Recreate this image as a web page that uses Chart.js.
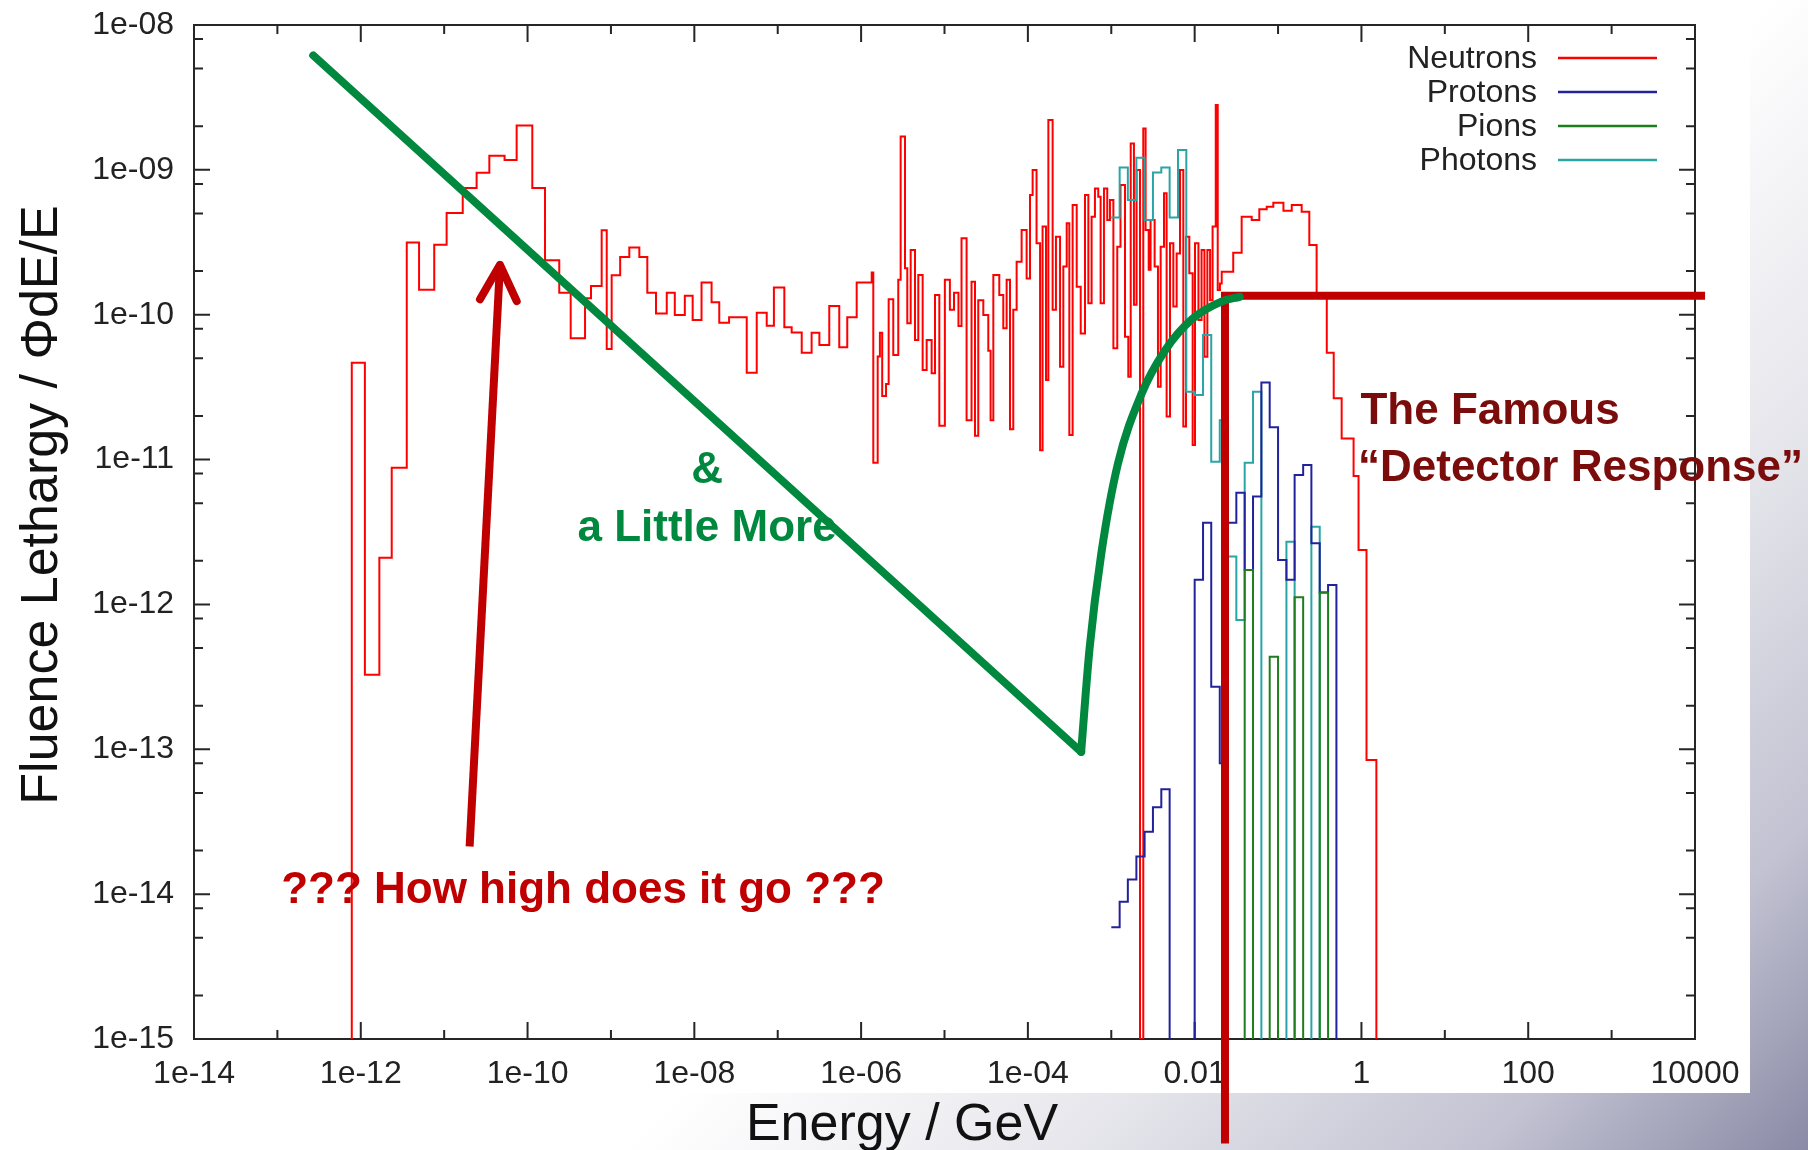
<!DOCTYPE html>
<html>
<head>
<meta charset="utf-8">
<title>Fluence spectrum</title>
<script src="https://cdn.jsdelivr.net/npm/chart.js@4.4.1/dist/chart.umd.min.js"></script>
<style>
html, body { margin: 0; padding: 0; }
body {
  width: 1808px; height: 1150px; overflow: hidden; position: relative;
  background: linear-gradient(135deg, #ffffff 0%, #ffffff 60%, #e6e6ec 75%, #c2c2d2 89%, #8a8aa6 100%);
}
#paper { position: absolute; left: 0; top: 0; width: 1750px; height: 1093px; background: #fff; }
#chart { position: absolute; left: 0; top: 0; }
</style>
</head>
<body>
<div id="paper"></div>
<canvas id="chart" width="1808" height="1150"></canvas>
<script>
// bin edges in GeV and fluence per bin (0 = empty bin)
const neutronEdges = [
  7.8e-13, 1.12e-12, 1.67e-12, 2.35e-12, 3.56e-12, 5.0e-12, 7.6e-12, 1.07e-11, 1.67e-11, 2.45e-11,
  3.48e-11, 5.3e-11, 7.4e-11, 1.14e-10, 1.62e-10, 2.4e-10, 3.29e-10, 4.89e-10, 5.77e-10, 7.74e-10,
  8.9e-10, 1.02e-9, 1.29e-9, 1.66e-9, 2.19e-9, 2.73e-9, 3.47e-9, 4.67e-9, 5.83e-9, 7.69e-9,
  9.55e-9, 1.22e-8, 1.61e-8, 1.99e-8, 2.61e-8, 4.25e-8, 5.6e-8, 7.38e-8, 9.0e-8, 1.2e-7,
  1.47e-7, 1.94e-7, 2.55e-7, 3.16e-7, 4.15e-7, 5.47e-7, 6.82e-7, 8.85e-7, 1.34e-6, 1.4e-6,
  1.58e-6, 1.68e-6, 1.79e-6, 1.99e-6, 2.14e-6, 2.43e-6, 2.79e-6, 2.98e-6, 3.36e-6, 3.58e-6,
  3.93e-6, 4.43e-6, 4.85e-6, 5.47e-6, 6.11e-6, 7.01e-6, 7.69e-6, 8.67e-6, 1.01e-5, 1.16e-5,
  1.3e-5, 1.47e-5, 1.6e-5, 1.84e-5, 2.11e-5, 2.32e-5, 2.54e-5, 2.92e-5, 3.35e-5, 3.57e-5,
  3.85e-5, 4.54e-5, 5.07e-5, 5.56e-5, 6.1e-5, 6.68e-5, 7.33e-5, 8.41e-5, 9.66e-5,
  1.06e-4, 1.14e-4, 1.27e-4, 1.4e-4, 1.5e-4, 1.65e-4, 1.76e-4, 1.98e-4, 2.17e-4, 2.43e-4,
  2.66e-4, 2.92e-4, 3.14e-4, 3.44e-4, 3.85e-4, 4.3e-4, 4.84e-4, 5.31e-4, 5.81e-4, 6.37e-4,
  6.98e-4, 7.45e-4, 8.17e-4, 8.95e-4, 9.64e-4, 1.06e-3, 1.18e-3, 1.29e-3, 1.46e-3, 1.6e-3,
  1.71e-3, 1.87e-3, 2.01e-3, 2.21e-3, 2.42e-3, 2.58e-3, 2.81e-3, 2.96e-3, 3.31e-3, 3.63e-3,
  3.91e-3, 4.29e-3, 4.61e-3, 5.06e-3, 5.55e-3, 6.08e-3, 6.67e-3, 7.31e-3, 7.87e-3, 8.63e-3,
  9.46e-3, 1.01e-2, 1.11e-2, 1.21e-2, 1.31e-2, 1.42e-2, 1.53e-2, 1.64e-2,
  1.79e-2, 1.89e-2, 2.01e-2, 2.11e-2, 2.9e-2, 3.66e-2, 4.83e-2, 5.96e-2,
  7.31e-2, 8.77e-2, 0.116, 0.146, 0.192, 0.237, 0.29, 0.384, 0.465, 0.579,
  0.805, 0.923, 1.15, 1.51
];
const neutronFlux = [
  4.66e-11, 3.27e-13, 2.1e-12, 8.77e-12, 3.15e-10, 1.49e-10, 3.04e-10, 5.04e-10, 7.48e-10, 9.55e-10,
  1.25e-9, 1.17e-9, 2.02e-9, 7.48e-10, 2.38e-10, 1.42e-10, 6.87e-11, 1.3e-10, 1.58e-10, 3.83e-10,
  5.79e-11, 1.87e-10, 2.5e-10, 2.91e-10, 2.5e-10, 1.42e-10, 1.02e-10, 1.42e-10, 9.95e-11, 1.35e-10,
  9.2e-11, 1.67e-10, 1.22e-10, 8.81e-11, 9.6e-11, 3.98e-11, 1.03e-10, 8.39e-11, 1.54e-10, 8.18e-11,
  7.55e-11, 5.47e-11, 7.52e-11, 6.18e-11, 1.15e-10, 5.96e-11, 9.6e-11, 1.67e-10, 1.96e-10, 9.5e-12,
  5.14e-11, 7.52e-11, 2.75e-11, 3.33e-11, 1.28e-10, 5.27e-11, 1.74e-10, 1.7e-9, 2.09e-10, 8.73e-11,
  2.8e-10, 6.7e-11, 1.88e-10, 4.16e-11, 6.7e-11, 3.94e-11, 1.37e-10, 1.71e-11, 1.74e-10, 1.08e-10,
  1.42e-10, 8.36e-11, 3.37e-10, 1.87e-11, 1.69e-10, 1.46e-11, 1.26e-10, 9.95e-11, 5.65e-11, 1.87e-11,
  1.88e-10, 1.37e-10, 8.05e-11, 1.74e-10, 1.62e-11, 1.08e-10, 2.32e-10, 3.85e-10, 1.78e-10,
  6.7e-10, 9.98e-10, 3.11e-10, 1.16e-11, 4.06e-10, 3.54e-11, 2.21e-9, 1.08e-10, 3.46e-10, 4.38e-11,
  2.15e-10, 4.28e-10, 1.48e-11, 5.71e-10, 1.56e-10, 7.43e-11, 6.7e-10, 1.2e-10, 4.75e-10, 7.45e-10,
  6.53e-10, 1.2e-10, 7.45e-10, 4.51e-10, 6.19e-10, 5.86e-11, 2.95e-10, 7.85e-10, 7.05e-11, 3.73e-11,
  1.52e-9, 1.17e-10, 9.98e-10, 0, 1.93e-9, 3.85e-10, 2.04e-10, 4.51e-10, 2.15e-10, 3.18e-11,
  2.95e-10, 6.89e-10, 1.98e-11, 3.11e-10, 1.14e-10, 2.65e-10, 9.98e-10, 1.69e-11, 3.46e-10, 1.93e-10,
  1.26e-11, 3.11e-10, 9.18e-11, 2.8e-10, 5.13e-11, 2.8e-10, 1.26e-10, 4.06e-10,
  2.8e-9, 1.48e-10, 1.64e-10, 1.98e-10, 2.68e-10, 4.75e-10, 4.51e-10, 5.35e-10,
  5.57e-10, 5.93e-10, 5.22e-10, 5.71e-10, 5.14e-10, 3.03e-10, 1.41e-10, 5.47e-11, 2.65e-11, 1.4e-11,
  7.71e-12, 2.38e-12, 8.43e-14
];

const protonEdges = [
  1e-3, 1.26e-3, 1.58e-3, 2e-3, 2.51e-3, 3.16e-3, 3.98e-3, 5.01e-3, 6.31e-3, 7.94e-3,
  1e-2, 1.26e-2, 1.58e-2, 2e-2, 2.51e-2, 3.16e-2, 3.98e-2, 5.01e-2, 6.31e-2, 7.94e-2,
  0.1, 0.126, 0.158, 0.2, 0.251, 0.316, 0.398, 0.501
];
const protonFlux = [
  5.9e-15, 8.87e-15, 1.26e-14, 1.82e-14, 2.7e-14, 3.98e-14, 5.3e-14, 0, 0, 0,
  1.48e-12, 3.66e-12, 2.7e-13, 8.0e-14, 3.66e-12, 5.9e-12, 1.73e-12, 5.55e-12, 3.4e-11, 1.67e-11,
  2.03e-12, 1.48e-12, 7.83e-12, 9.19e-12, 2.64e-12, 1.21e-12, 1.36e-12
];

const pionEdges = [3.98e-2, 5.01e-2, 6.31e-2, 7.94e-2, 0.1, 0.126, 0.158, 0.2, 0.251, 0.316, 0.398];
const pionFlux = [1.73e-12, 0, 0, 4.36e-13, 0, 0, 1.12e-12, 0, 0, 1.21e-12];

const photonEdges = [
  1e-3, 1.26e-3, 1.58e-3, 2e-3, 2.51e-3, 3.16e-3, 3.98e-3, 5.01e-3, 6.31e-3, 7.94e-3,
  1e-2, 1.26e-2, 1.58e-2, 2e-2, 2.51e-2, 3.16e-2, 3.98e-2, 5.01e-2, 6.31e-2, 7.94e-2,
  0.1, 0.126, 0.158, 0.2, 0.251, 0.316
];
const photonFlux = [
  4.68e-10, 1.04e-9, 6.19e-10, 1.21e-9, 4.51e-10, 9.6e-10, 1.04e-9, 4.68e-10, 1.37e-9, 2.94e-11,
  2.79e-11, 7.24e-11, 9.66e-12, 1.87e-11, 2.14e-12, 7.82e-13, 9.5e-12, 2.94e-11, 0, 0,
  0, 2.71e-12, 0, 0, 3.44e-12
];

// hand-drawn overlay: straight slope, rising curve, "detector response" and arrow
const slopeE = [2.69e-13, 4.35e-4];
const slopeF = [6.17e-9, 9.6e-14];
const riseE = [4.35e-4, 5.5e-4, 7.59e-4, 1.2e-3, 2.29e-3, 4.37e-3, 9.33e-3, 2.09e-2, 3.47e-2];
const riseF = [9.6e-14, 5.01e-13, 2.24e-12, 9.33e-12, 2.82e-11, 5.62e-11, 9.33e-11, 1.23e-10, 1.33e-10];
const responseE = [2.31e-2, 2.31e-2, 1.32e4];
const responseF = [1.9e-16, 1.35e-10, 1.35e-10];
const arrowE = [2.02e-11, 4.67e-11];
const arrowF = [2.13e-14, 2.21e-10];
const arrowHeadE = [2.69e-11, 4.67e-11, 7.41e-11];
const arrowHeadF = [1.28e-10, 2.21e-10, 1.24e-10];

const noteTexts = ['&', 'a Little More', '??? How high does it go ???', 'The Famous', '\u201cDetector Response\u201d'];
const noteE = [1.42e-8, 1.42e-8, 4.62e-10, 0.974, 0.909];
const noteF = [6.89e-12, 2.76e-12, 8.69e-15, 1.77e-11, 7.15e-12];

const xTickValues = [1e-14, 1e-12, 1e-10, 1e-8, 1e-6, 1e-4, 1e-2, 1, 100, 1e4];
const xTickLabels = ['1e-14', '1e-12', '1e-10', '1e-08', '1e-06', '1e-04', '0.01', '1', '100', '10000'];
const xMinorValues = [1e-13, 1e-11, 1e-9, 1e-7, 1e-5, 1e-3, 0.1, 10, 1000];
const yTickValues = [1e-15, 1e-14, 1e-13, 1e-12, 1e-11, 1e-10, 1e-9, 1e-8];
const yTickLabels = ['1e-15', '1e-14', '1e-13', '1e-12', '1e-11', '1e-10', '1e-09', '1e-08'];
const yMinorSteps = [2, 5, 8];

const FLOOR = 1e-17; // empty bins go below the axis and get clipped
const SANS = '"Liberation Sans", Arial, sans-serif';
const GREEN = '#00893e';
const DARKRED = '#c00000';

function histPoints(edges, flux, fromAxis) {
  const pts = [];
  if (fromAxis) pts.push({ x: edges[0], y: FLOOR });
  flux.forEach((v, i) => pts.push({ x: edges[i], y: v > 0 ? v : FLOOR }));
  const end = edges[edges.length - 1];
  const last = flux[flux.length - 1];
  pts.push({ x: end, y: last > 0 ? last : FLOOR });
  pts.push({ x: end, y: FLOOR });
  return pts;
}

function zip(es, fs) {
  return es.map((e, i) => ({ x: e, y: fs[i] }));
}

function hist(label, color, edges, flux, fromAxis, order) {
  return {
    label, inLegend: true, order,
    data: histPoints(edges, flux, fromAxis),
    borderColor: color, borderWidth: 2, stepped: true,
    pointRadius: 0, fill: false, borderJoinStyle: 'miter'
  };
}

function stroke(data, color, order, extra) {
  return Object.assign({
    data, order, borderColor: color, borderWidth: 8,
    pointRadius: 0, fill: false, borderCapStyle: 'round', borderJoinStyle: 'round'
  }, extra || {});
}

const frame = {
  id: 'frame',
  beforeDatasetsDraw(chart) {
    const { ctx, chartArea: a } = chart;
    const xs = chart.scales.x, ys = chart.scales.y;
    ctx.save();
    ctx.strokeStyle = '#262626';
    ctx.lineWidth = 2;
    ctx.beginPath();
    const xt = (v, len) => {
      const p = xs.getPixelForValue(v);
      ctx.moveTo(p, a.bottom); ctx.lineTo(p, a.bottom - len);
      ctx.moveTo(p, a.top); ctx.lineTo(p, a.top + len);
    };
    const yt = (v, len) => {
      const p = ys.getPixelForValue(v);
      ctx.moveTo(a.left, p); ctx.lineTo(a.left + len, p);
      ctx.moveTo(a.right, p); ctx.lineTo(a.right - len, p);
    };
    xTickValues.forEach(v => xt(v, 17));
    xMinorValues.forEach(v => xt(v, 9));
    yTickValues.forEach(v => yt(v, 16));
    yTickValues.slice(0, -1).forEach(d => yMinorSteps.forEach(s => yt(d * s, 9)));
    ctx.stroke();
    ctx.strokeRect(a.left, a.top, a.right - a.left, a.bottom - a.top);
    ctx.restore();
  },
  afterDatasetsDraw(chart) {
    const { ctx } = chart;
    const xs = chart.scales.x, ys = chart.scales.y;
    ctx.save();
    // notes
    ctx.font = 'bold 44px ' + SANS;
    ctx.textBaseline = 'alphabetic';
    const noteColors = [GREEN, GREEN, DARKRED, '#7a0c0c', '#7a0c0c'];
    const noteAlign = ['center', 'center', 'center', 'left', 'left'];
    noteTexts.forEach((t, i) => {
      ctx.fillStyle = noteColors[i];
      ctx.textAlign = noteAlign[i];
      ctx.fillText(t, xs.getPixelForValue(noteE[i]), ys.getPixelForValue(noteF[i]));
    });
    // legend, gnuplot style: text right-aligned, sample line to the right
    ctx.font = '32px ' + SANS;
    ctx.textAlign = 'right';
    ctx.textBaseline = 'middle';
    chart.data.datasets.filter(d => d.inLegend).forEach((d, i) => {
      const y = 58 + i * 34;
      ctx.fillStyle = '#222';
      ctx.fillText(d.label, 1537, y + 1);
      ctx.strokeStyle = d.borderColor;
      ctx.lineWidth = 2.5;
      ctx.beginPath();
      ctx.moveTo(1558, y); ctx.lineTo(1657, y);
      ctx.stroke();
    });
    // axis titles
    ctx.fillStyle = '#111';
    ctx.font = '52px ' + SANS;
    ctx.textAlign = 'center';
    ctx.textBaseline = 'alphabetic';
    ctx.fillText('Energy / GeV', 902, 1140);
    ctx.translate(57, 505);
    ctx.rotate(-Math.PI / 2);
    ctx.fillText('Fluence Lethargy / \u03a6dE/E', 0, 0);
    ctx.restore();
  }
};

new Chart(document.getElementById('chart'), {
  type: 'line',
  data: {
    datasets: [
      hist('Neutrons', '#ff0000', neutronEdges, neutronFlux, true, 10),
      hist('Protons', '#22229a', protonEdges, protonFlux, false, 8),
      hist('Pions', '#1e7d1e', pionEdges, pionFlux, true, 7),
      hist('Photons', '#2aa5a5', photonEdges, photonFlux, false, 9),
      stroke(zip(responseE, responseF), DARKRED, 3, { clip: false, borderCapStyle: 'butt', borderJoinStyle: 'miter' }),
      stroke(zip(slopeE, slopeF), GREEN, 2),
      stroke(zip(riseE, riseF), GREEN, 2, { cubicInterpolationMode: 'monotone' }),
      stroke(zip(arrowE, arrowF), DARKRED, 1, { borderCapStyle: 'butt' }),
      stroke(zip(arrowHeadE, arrowHeadF), DARKRED, 1)
    ]
  },
  options: {
    responsive: false,
    animation: false,
    devicePixelRatio: 1,
    layout: { padding: { left: 0, right: 113, top: 25, bottom: 0 } },
    plugins: { legend: { display: false }, tooltip: { enabled: false } },
    scales: {
      x: {
        type: 'logarithmic', min: 1e-14, max: 1e4,
        grid: { display: false, drawTicks: false },
        border: { display: false },
        afterBuildTicks: s => { s.ticks = xTickValues.map(v => ({ value: v })); },
        afterFit: s => { s.height = 111; s.paddingLeft = 0; s.paddingRight = 0; },
        ticks: {
          autoSkip: false, maxRotation: 0, padding: 16, color: '#222',
          font: { family: SANS, size: 32 },
          callback: (v, i) => xTickLabels[i]
        }
      },
      y: {
        type: 'logarithmic', min: 1e-15, max: 1e-8,
        grid: { display: false, drawTicks: false },
        border: { display: false },
        afterBuildTicks: s => { s.ticks = yTickValues.map(v => ({ value: v })); },
        afterFit: s => { s.width = 194; s.paddingTop = 0; s.paddingBottom = 0; },
        ticks: {
          autoSkip: false, padding: 20, color: '#222',
          font: { family: SANS, size: 32 },
          callback: (v, i) => yTickLabels[i]
        }
      }
    }
  },
  plugins: [frame]
});
</script>
</body>
</html>
